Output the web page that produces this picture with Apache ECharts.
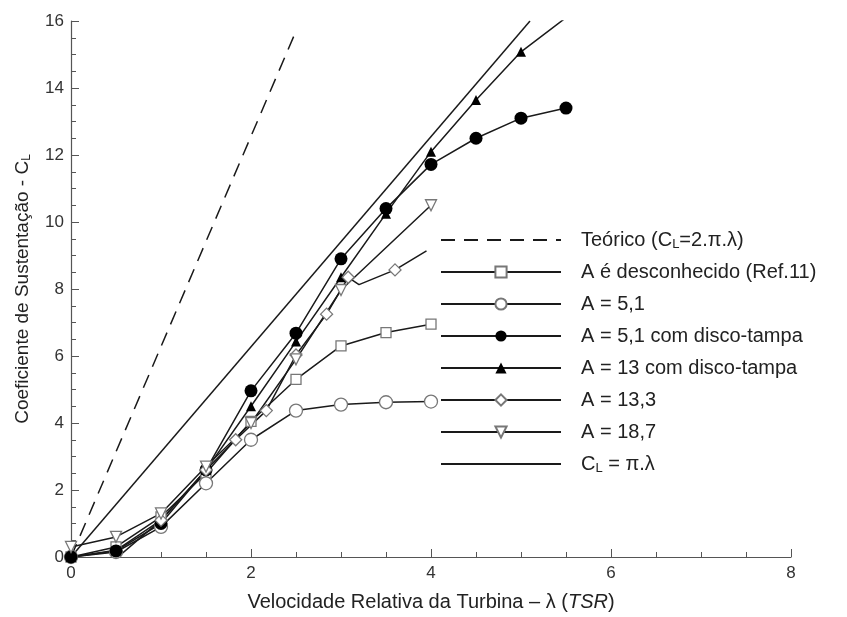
<!DOCTYPE html>
<html>
<head>
<meta charset="utf-8">
<script src="https://cdn.jsdelivr.net/npm/echarts@6/dist/echarts.min.js"></script>
<style>
  html, body { margin: 0; padding: 0; background: #fff; }
  #echart { width: 847px; height: 617px; }
</style>
</head>
<body>
<div id="echart"></div>
<script>
// dados (λ, CL)
var teorico = [[0, 0], [2.5, 15.7]];
var aDesconhecido = [[0, 0], [0.5, 0.3], [1, 1.2], [1.5, 2.5], [2, 4.05], [2.5, 5.3], [3, 6.3], [3.5, 6.7], [4, 6.95]];
var a51 = [[0, 0], [0.5, 0.15], [1, 0.9], [1.5, 2.2], [2, 3.5], [2.5, 4.37], [3, 4.55], [3.5, 4.62], [4, 4.64]];
var a51Disco = [[0, 0], [0.5, 0.18], [1, 1.0], [1.5, 2.6], [2, 4.96], [2.5, 6.68], [3, 8.9], [3.5, 10.4], [4, 11.72], [4.5, 12.5], [5, 13.1], [5.5, 13.4]];
var a13Disco = [[0, 0], [0.5, 0.2], [1, 1.1], [1.5, 2.6], [2, 4.5], [2.5, 6.43], [3, 8.35], [3.5, 10.25], [4, 12.1], [4.5, 13.64], [5, 15.08], [5.5, 16.1]];
var a133 = [[0.5, -0.05], [1, 1.1], [1.5, 2.6], [1.83, 3.5], [2.17, 4.37], [2.5, 6.03], [2.84, 7.25], [3.08, 8.35], [3.2, 8.13], [3.6, 8.57], [3.95, 9.14]];
var a133SemMarca = [8, 10]; // índices sem marcador
var a187 = [[0, 0.3], [0.5, 0.6], [1, 1.3], [1.5, 2.7], [2, 4.0], [2.5, 5.9], [3, 7.97], [4, 10.5]];
var clPiLambda = [[0, 0], [5.1, 16.0]];

var xTicks = { min: 0, max: 8, interval: 2 };
var yTicks = { min: 0, max: 16, interval: 2 };

var nomes = [
    'Teórico (CL=2.π.λ)',
    'A é desconhecido (Ref.11)',
    'A = 5,1',
    'A = 5,1 com disco-tampa',
    'A = 13 com disco-tampa',
    'A = 13,3',
    'A = 18,7',
    'CL = π.λ'
];

var fonte = '"Liberation Sans", Arial, sans-serif';
var preto = '#1a1a1a';
var cinza = '#777';

var myChart = echarts.init(document.getElementById('echart'));

function linha(nome, dados, extra) {
    var s = {
        name: nome,
        type: 'line',
        data: dados,
        smooth: false,
        clip: true,
        symbol: 'none',
        lineStyle: { color: preto, width: 1.5 },
        itemStyle: { color: preto }
    };
    for (var k in extra) s[k] = extra[k];
    return s;
}

var vazio = { color: '#fff', borderColor: cinza, borderWidth: 1.3 };

var a133Dados = a133.map(function (p, i) {
    if (a133SemMarca.indexOf(i) >= 0) return { value: p, symbol: 'none' };
    return p;
});

// itens da legenda: as retas teóricas sem marcador
var legendaDados = nomes.map(function (n, i) {
    if (i === 0 || i === 7) {
        return { name: n, itemStyle: { color: 'rgba(0,0,0,0)', borderWidth: 0, opacity: 0 } };
    }
    return { name: n };
});

option = {
    animation: false,
    backgroundColor: '#fff',
    textStyle: { fontFamily: fonte },
    grid: { left: 71, right: 56, top: 21, bottom: 60 },
    legend: {
        orient: 'vertical',
        left: 435,
        top: 224,
        itemWidth: 120,
        itemHeight: 14,
        itemGap: 10,
        data: legendaDados,
        formatter: function (n) {
            if (n === nomes[0]) return '{t|Teórico (C}{s|L}{t|=2.π.λ)}';
            if (n === nomes[7]) return '{t|C}{s|L}{t| = π.λ}';
            return '{t|' + n + '}';
        },
        textStyle: {
            fontFamily: fonte,
            fontSize: 20,
            color: '#222',
            lineHeight: 22,
            padding: [0, 0, 0, 15],
            rich: {
                t: { fontFamily: fonte, fontSize: 20, color: '#222', lineHeight: 22 },
                s: { fontFamily: fonte, fontSize: 13, color: '#222', lineHeight: 22, verticalAlign: 'bottom' }
            }
        }
    },
    xAxis: {
        type: 'value',
        min: xTicks.min,
        max: xTicks.max,
        interval: xTicks.interval,
        name: '{n|Velocidade Relativa da Turbina – λ (}{i|TSR}{n|)}',
        nameLocation: 'middle',
        nameGap: 35,
        nameTextStyle: {
            rich: {
                n: { fontFamily: fonte, fontSize: 20, color: '#222' },
                i: { fontFamily: fonte, fontSize: 20, color: '#222', fontStyle: 'italic' }
            }
        },
        axisLine: { show: true, lineStyle: { color: '#555', width: 1.2 } },
        axisTick: { show: true, inside: true, length: 8, lineStyle: { color: '#555' } },
        minorTick: { show: true, splitNumber: 4, length: 5, lineStyle: { color: '#555' } },
        axisLabel: { fontFamily: fonte, fontSize: 17, color: '#333', margin: 8 },
        splitLine: { show: false }
    },
    yAxis: {
        type: 'value',
        min: yTicks.min,
        max: yTicks.max,
        interval: yTicks.interval,
        name: '{n|Coeficiente de Sustentação - C}{s|L}',
        nameLocation: 'middle',
        nameGap: 38,
        nameRotate: 90,
        nameTextStyle: {
            rich: {
                n: { fontFamily: fonte, fontSize: 19, color: '#222', lineHeight: 21 },
                s: { fontFamily: fonte, fontSize: 12, color: '#222', lineHeight: 21, verticalAlign: 'bottom' }
            }
        },
        axisLine: { show: true, lineStyle: { color: '#555', width: 1.2 } },
        axisTick: { show: true, inside: true, length: 8, lineStyle: { color: '#555' } },
        minorTick: { show: true, splitNumber: 4, length: 5, lineStyle: { color: '#555' } },
        axisLabel: { fontFamily: fonte, fontSize: 17, color: '#333', margin: 7 },
        splitLine: { show: false }
    },
    series: [
        linha(nomes[0], teorico, { lineStyle: { color: preto, width: 1.5, type: [14, 9] } }),
        linha(nomes[1], aDesconhecido, { symbol: 'rect', symbolSize: 10, itemStyle: vazio }),
        linha(nomes[2], a51, { symbol: 'circle', symbolSize: 13, itemStyle: vazio }),
        linha(nomes[3], a51Disco, { symbol: 'circle', symbolSize: 13, itemStyle: { color: '#000' } }),
        linha(nomes[4], a13Disco, { symbol: 'triangle', symbolSize: 10, itemStyle: { color: '#000' } }),
        linha(nomes[5], a133Dados, { symbol: 'diamond', symbolSize: 12, itemStyle: vazio }),
        linha(nomes[6], a187, { symbol: 'triangle', symbolSize: 11, symbolRotate: 180, itemStyle: vazio }),
        linha(nomes[7], clPiLambda, {})
    ]
};
myChart.setOption(option);
</script>
</body>
</html>
